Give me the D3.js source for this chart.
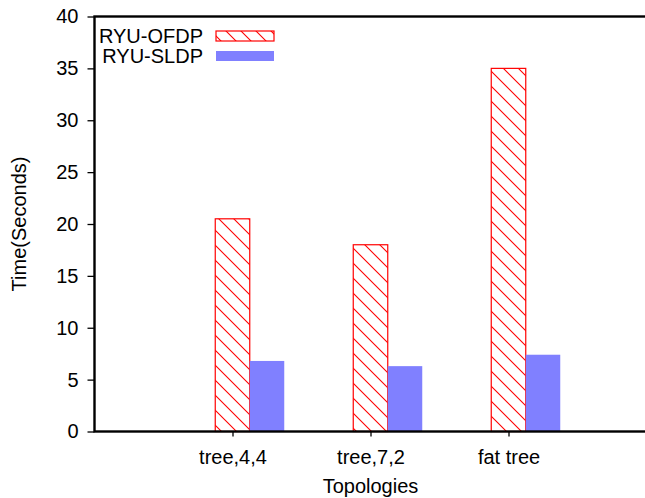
<!DOCTYPE html>
<html>
<head>
<meta charset="utf-8">
<script src="https://cdn.jsdelivr.net/npm/d3@7"></script>
<style>
  html, body { margin: 0; padding: 0; background: #fff; }
  svg { display: block; }
  text { font-family: "Liberation Sans", Arial, Helvetica, sans-serif; }
</style>
</head>
<body>
<svg id="chart" width="645" height="498"></svg>
<script>
const categories = ["tree,4,4", "tree,7,2", "fat tree"];
const seriesNames = ["RYU-OFDP", "RYU-SLDP"];
const ofdpValues = [20.5, 18.0, 35.0];
const sldpValues = [6.8, 6.3, 7.4];
const yTicks = [0, 5, 10, 15, 20, 25, 30, 35, 40];

const svg = d3.select("#chart");
const mLeft = 94.5, mRight = 646.5, mTop = 16.5, mBottom = 431.5;

const x = d3.scaleLinear().domain([0, categories.length + 1]).range([mLeft, mRight]);
const y = d3.scaleLinear().domain([0, 40]).range([mBottom, mTop]);
const step = x(1) - x(0);
const barW = step * 0.25;

// hatch pattern
const defs = svg.append("defs");
const pat = defs.append("pattern")
  .attr("id", "hatch").attr("patternUnits", "userSpaceOnUse")
  .attr("width", 15).attr("height", 15);
pat.append("rect").attr("width", 15).attr("height", 15).attr("fill", "#fff");
pat.append("path")
  .attr("d", "M0,0 L15,15 M-2,13 L2,17 M13,-2 L17,2")
  .attr("stroke", "#ff0000").attr("stroke-width", 1.1).attr("fill", "none");

// bars
const idx = d3.range(categories.length);
svg.append("g").selectAll("rect").data(idx).join("rect")
  .attr("x", i => x(i + 1) - barW / 2)
  .attr("y", i => y(ofdpValues[i]))
  .attr("width", barW)
  .attr("height", i => y(0) - y(ofdpValues[i]))
  .attr("fill", "url(#hatch)")
  .attr("stroke", "#ff0000").attr("stroke-width", 1.2);

svg.append("g").selectAll("rect").data(idx).join("rect")
  .attr("x", i => x(i + 1) + barW / 2)
  .attr("y", i => y(sldpValues[i]))
  .attr("width", barW)
  .attr("height", i => y(0) - y(sldpValues[i]))
  .attr("fill", "#8080ff");

// axes
const yAxis = d3.axisLeft(y).tickValues(yTicks).tickSize(7).tickPadding(9);
const gy = svg.append("g").attr("transform", `translate(${mLeft},0)`).call(yAxis);
gy.select(".domain").remove();
gy.selectAll(".tick line").attr("stroke", "#000").attr("stroke-width", 1.3);
gy.selectAll(".tick text").attr("font-size", 20).attr("fill", "#000")
  .attr("font-family", "Liberation Sans, Arial, sans-serif");

const xAxis = d3.axisBottom(x).tickValues(d3.range(1, categories.length + 1))
  .tickFormat(d => categories[d - 1]).tickSize(5).tickPadding(13);
const gx = svg.append("g").attr("transform", `translate(0,${mBottom})`).call(xAxis);
gx.select(".domain").remove();
gx.selectAll(".tick line").attr("stroke", "#000").attr("stroke-width", 1.3);
gx.selectAll(".tick text").attr("font-size", 20).attr("fill", "#000")
  .attr("font-family", "Liberation Sans, Arial, sans-serif");

// frame
svg.append("rect").attr("x", mLeft).attr("y", mTop)
  .attr("width", mRight - mLeft).attr("height", mBottom - mTop)
  .attr("fill", "none").attr("stroke", "#000").attr("stroke-width", 2.4);

// axis titles
svg.append("text").attr("x", x(2)).attr("y", 493)
  .attr("text-anchor", "middle").attr("font-size", 20).text("Topologies");
svg.append("text").attr("transform", `translate(26,${(mTop + mBottom) / 2}) rotate(-90)`)
  .attr("text-anchor", "middle").attr("font-size", 20).text("Time(Seconds)");

// legend
const legend = svg.append("g");
const fills = ["url(#hatch)", "#8080ff"];
seriesNames.forEach((name, i) => {
  const cy = 36 + i * 20;
  legend.append("text").attr("x", 203).attr("y", cy + 7)
    .attr("text-anchor", "end").attr("font-size", 20).text(name);
  legend.append("rect").attr("x", 216).attr("y", cy - 5).attr("width", 58).attr("height", 10)
    .attr("fill", fills[i])
    .attr("stroke", i === 0 ? "#ff0000" : "none").attr("stroke-width", 1.2);
});
</script>
</body>
</html>
